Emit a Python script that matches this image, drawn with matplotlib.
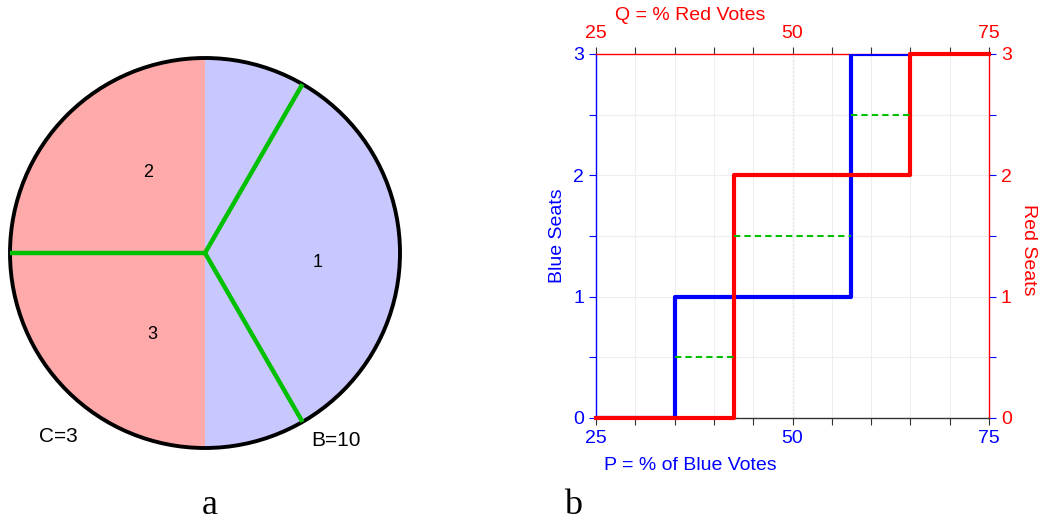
import numpy as np
import matplotlib
matplotlib.use('Agg')
from matplotlib import pyplot as plt
from matplotlib.patches import Wedge, Circle

plt.rcParams['font.family'] = ['Liberation Sans', 'DejaVu Sans']

# panel a: district diagram
half_colors = ['#FFAAAA', '#C8C8FF']
boundary_angles = [180, 60, -60]          # green district borders (degrees)
district_labels = ['2', '1', '3']
district_pos = [(-0.29, 0.415), (0.58, -0.05), (-0.27, -0.42)]
corner_labels = ['C=3', 'B=10']
corner_pos = [(-0.75, -0.94), (0.67, -0.96)]

# panel b: seats vs votes steps
blue_x = [25, 35, 57.5, 65]
blue_y = [0, 1, 3, 3]
red_x = [25, 42.5, 65, 75]
red_y = [0, 2, 3, 3]
dash_y = [0.5, 1.5, 2.5]
dash_start = [35, 42.5, 57.5]
dash_end = [42.5, 57.5, 65]

W, H = 1039, 521
fig = plt.figure(figsize=(W / 100, H / 100), dpi=100)

# ---- a ----
cx, cy, R = 205, 253, 195
ax_a = fig.add_axes([(cx - R) / W, (H - cy - R) / H, 2 * R / W, 2 * R / H])
ax_a.set_xlim(-1, 1)
ax_a.set_ylim(-1, 1)
ax_a.axis('off')
ax_a.add_patch(Wedge((0, 0), 1, 90, 270, facecolor=half_colors[0], edgecolor='none'))
ax_a.add_patch(Wedge((0, 0), 1, -90, 90, facecolor=half_colors[1], edgecolor='none'))
for ang in boundary_angles:
    t = np.deg2rad(ang)
    ax_a.plot([0, np.cos(t)], [0, np.sin(t)], color='#00C000', lw=3.2,
              solid_capstyle='butt', clip_on=False)
ax_a.add_patch(Circle((0, 0), 1, fill=False, edgecolor='black', lw=2.8, clip_on=False))
for lab, (x, y) in zip(district_labels, district_pos):
    ax_a.text(x, y, lab, ha='center', va='center', fontsize=13)
for lab, (x, y) in zip(corner_labels, corner_pos):
    ax_a.text(x, y, lab, ha='center', va='center', fontsize=15)

# ---- b ----
l, r, t, b = 596, 989, 54, 418
ax = fig.add_axes([l / W, (H - b) / H, (r - l) / W, (b - t) / H])
ax.set_xlim(25, 75)
ax.set_ylim(0, 3)

ax.grid(True, color='#EEEEEE', lw=0.8)
ax.axvline(50, color='#BBBBBB', ls=':', lw=1, zorder=1)

ax.step(blue_x, blue_y, where='post', color='#0000FF', lw=3, zorder=3)
ax.step(red_x, red_y, where='post', color='#FF0000', lw=3, zorder=4, clip_on=False)
ax.hlines(dash_y, dash_start, dash_end, colors='#00C000', linestyles=(0, (3, 2)), lw=1.5, zorder=5)

xt = np.arange(25, 76, 5)
xl = [str(v) if v in (25, 50, 75) else '' for v in xt]
yt = np.arange(0, 3.01, 0.5)
yl = [str(int(v)) if v == int(v) else '' for v in yt]

ax.set_xticks(xt)
ax.set_xticklabels(xl)
ax.set_yticks(yt)
ax.set_yticklabels(yl)
ax.tick_params(axis='x', bottom=True, top=True, labelbottom=True, labeltop=True,
               direction='out', length=5, labelsize=14, labelcolor='#0000FF', color='#333333')
ax.tick_params(axis='y', left=True, right=True, labelleft=True, labelright=True,
               direction='out', length=5, labelsize=14, labelcolor='#0000FF', color='#0000FF')
# top and right side belong to red
for tk in ax.xaxis.get_major_ticks():
    tk.label2.set_color('#FF0000')
    tk.tick2line.set_color('#FF0000')
for tk in ax.yaxis.get_major_ticks():
    tk.label2.set_color('#FF0000')
    tk.tick2line.set_color('#FF0000')

ax.spines['bottom'].set_color('#333333')
ax.spines['left'].set_color('#0000FF')
ax.spines['top'].set_color('#FF0000')
ax.spines['right'].set_color('#FF0000')
for s in ax.spines.values():
    s.set_linewidth(1)

fig.text(557 / W, 1 - 236 / H, 'Blue Seats', color='#0000FF', fontsize=14,
         rotation=90, ha='center', va='center')
fig.text(1029 / W, 1 - 250 / H, 'Red Seats', color='#FF0000', fontsize=14,
         rotation=-90, ha='center', va='center')
fig.text(690 / W, 1 - 15 / H, 'Q = % Red Votes', color='#FF0000', fontsize=14,
         ha='center', va='center')
fig.text(690 / W, 1 - 465 / H, 'P = % of Blue Votes', color='#0000FF', fontsize=14,
         ha='center', va='center')

fig.text(210 / W, 1 - 505 / H, 'a', family='Liberation Serif', fontsize=26, ha='center', va='center')
fig.text(573 / W, 1 - 505 / H, 'b', family='Liberation Serif', fontsize=26, ha='center', va='center')

fig.savefig('out.png', dpi=100)
